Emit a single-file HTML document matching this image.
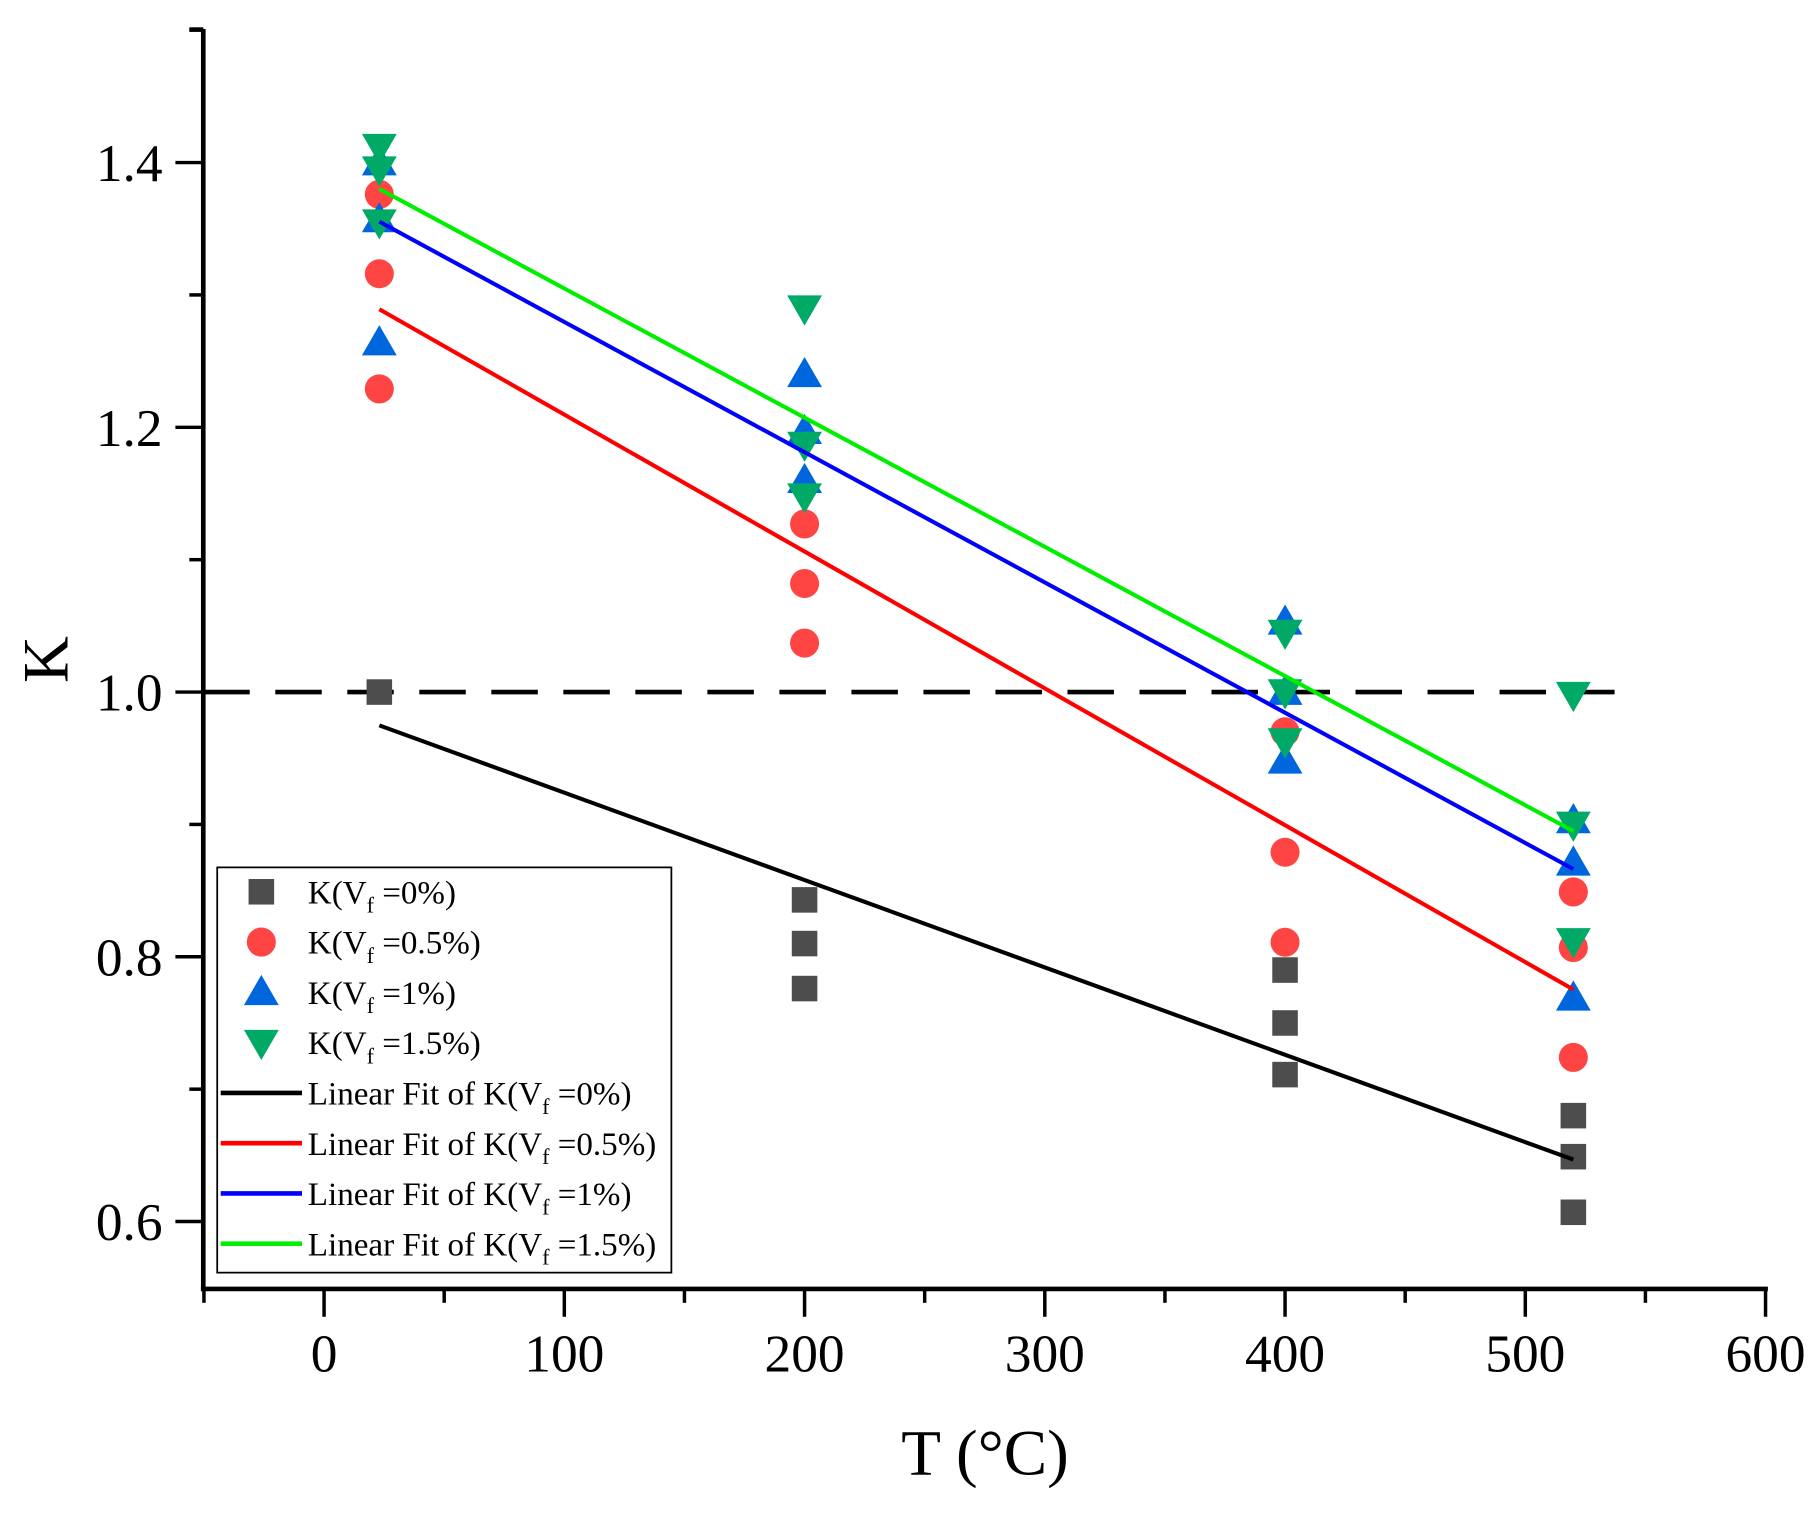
<!DOCTYPE html>
<html><head><meta charset="utf-8"><style>
html,body{margin:0;padding:0;background:#fff;}
svg{display:block;font-family:"Liberation Serif",serif;}
</style></head><body>
<svg id="chart" width="1819" height="1513" viewBox="0 0 1566 1303" preserveAspectRatio="none" xmlns="http://www.w3.org/2000/svg">
<g id="plot"></g>
</svg>
<script>
const xTicks = [0,100,200,300,400,500,600];
const yTicks = [0.6,0.8,1.0,1.2,1.4];
const tempsSq = [23,200,200,200,400,400,400,520,520,520];
const kSq = [1.0,0.843,0.81,0.776,0.79,0.75,0.711,0.68,0.649,0.607];
const tempsCi = [23,23,23,200,200,200,400,400,400,520,520,520];
const kCi = [1.376,1.316,1.229,1.127,1.082,1.037,0.97,0.879,0.811,0.849,0.807,0.724];
const tempsUp = [23,23,23,200,200,200,400,400,400,520,520,520];
const kUp = [1.40,1.357,1.264,1.24,1.197,1.16,1.053,1.0,0.948,0.903,0.871,0.769];
const tempsDn = [23,23,23,200,200,200,400,400,400,520,520,520];
const kDn = [1.412,1.395,1.355,1.29,1.187,1.148,1.045,1.0,0.963,0.998,0.9,0.812];
const fitIntercepts = [0.990,1.313,1.378,1.4025];
const fitSlopes = [-0.00066,-0.001034,-0.000984,-0.000976];
const fitRange = [23,520];
const refLine = 1.0;

const NS="http://www.w3.org/2000/svg";
const g=document.getElementById('plot');
function X(v){return 279+(v-0)*2.0683;}
function Y(v){return 596-(v-1.0)*1140;}
function mk(tag,at,parent){const e=document.createElementNS(NS,tag);for(const k in at)e.setAttribute(k,at[k]);(parent||g).appendChild(e);return e;}

let e;
e=mk('line',{x1:175,y1:25,x2:175,y2:1112,stroke:'#000','stroke-width':4});


e=mk('line',{x1:173,y1:1110,x2:1522,y2:1110,stroke:'#000','stroke-width':4});


mk('line',{x1:175,y1:25,x2:163,y2:25,stroke:'#000','stroke-width':3});
for(let v=-50;v<=600;v+=50){
  const major=v%100===0;
  e=mk('line',{x1:X(v),y1:1110,x2:X(v),y2:major?1134:1122,stroke:'#000','stroke-width':3});
  
  
}
xTicks.forEach(v=>{
  e=mk('text',{x:X(v),y:1181,'font-size':46,'text-anchor':'middle'});e.textContent=v;
  
  
});
for(let i=0;i<=9;i++){
  const v=0.6+i*0.1; const major=i%2===0;
  e=mk('line',{x1:175,y1:Y(v),x2:major?151:163,y2:Y(v),stroke:'#000','stroke-width':3});
  
  
}
yTicks.forEach(v=>{
  e=mk('text',{x:140,y:Y(v)+16,'font-size':46,'text-anchor':'end'});e.textContent=v.toFixed(1);
  
  
});
e=mk('text',{x:848,y:1270,'font-size':56,'text-anchor':'middle'});e.textContent='T (°C)';


e=mk('text',{x:58,y:568,'font-size':56,'text-anchor':'middle',transform:'rotate(-90 58 568)'});e.textContent='K';



e=mk('line',{x1:175,y1:Y(refLine),x2:1390,y2:Y(refLine),stroke:'#000','stroke-width':4,'stroke-dasharray':'40 22'});



function marker(type,cx,cy,parent){
  let m;
  if(type==='sq') m=mk('rect',{x:cx-11,y:cy-11,width:22,height:22,fill:'#4d4d4d'},parent);
  else if(type==='ci') m=mk('circle',{cx:cx,cy:cy,r:12.5,fill:'#ff4444'},parent);
  else if(type==='up') m=mk('polygon',{points:`${cx},${cy-15} ${cx-15},${cy+11} ${cx+15},${cy+11}`,fill:'#0066dd'},parent);
  else m=mk('polygon',{points:`${cx},${cy+15} ${cx-15},${cy-11} ${cx+15},${cy-11}`,fill:'#00aa66'},parent);
  return m;
}
const series=[
  {xs:tempsSq,ys:kSq,t:'sq',c:'#000',name:'0'},
  {xs:tempsCi,ys:kCi,t:'ci',c:'#ff0000',name:'0-5'},
  {xs:tempsUp,ys:kUp,t:'up',c:'#0000ff',name:'1'},
  {xs:tempsDn,ys:kDn,t:'dn',c:'#00ee00',name:'1-5'}
];
series.forEach(s=>{
  s.xs.forEach((x,i)=>{
    const m=marker(s.t,X(x),Y(s.ys[i]));
    
    
  });
});
series.forEach((s,k)=>{
  const a=fitIntercepts[k],b=fitSlopes[k];
  const x0=fitRange[0],x1=fitRange[1];
  const l=mk('line',{x1:X(x0),y1:Y(a+b*x0),x2:X(x1),y2:Y(a+b*x1),stroke:s.c,'stroke-width':3.5});
  
  
});

const lg=mk('g',{});


mk('rect',{x:187,y:747,width:391,height:349,fill:'#fff',stroke:'#000','stroke-width':1.5},lg);
const labels=['K(V','K(V','K(V','K(V','Linear Fit of K(V','Linear Fit of K(V','Linear Fit of K(V','Linear Fit of K(V'];
const tails=['=0%)','=0.5%)','=1%)','=1.5%)','=0%)','=0.5%)','=1%)','=1.5%)'];
const types=['sq','ci','up','dn'];
for(let i=0;i<8;i++){
  const y=768+i*43.3;
  let sym;
  if(i<4){sym=marker(types[i],225,y,lg);}
  else{sym=mk('line',{x1:190,y1:y,x2:260,y2:y,stroke:series[i-4].c,'stroke-width':4},lg);}
  
  
  const t=mk('text',{x:265,y:y+10,'font-size':28.5},lg);
  
  
  t.appendChild(document.createTextNode(labels[i]));
  const sub=document.createElementNS(NS,'tspan');sub.setAttribute('font-size',19);sub.setAttribute('dy',8);sub.textContent='f';t.appendChild(sub);
  const tl=document.createElementNS(NS,'tspan');tl.setAttribute('dy',-8);tl.textContent=' '+tails[i];t.appendChild(tl);
}
</script>
</body></html>
